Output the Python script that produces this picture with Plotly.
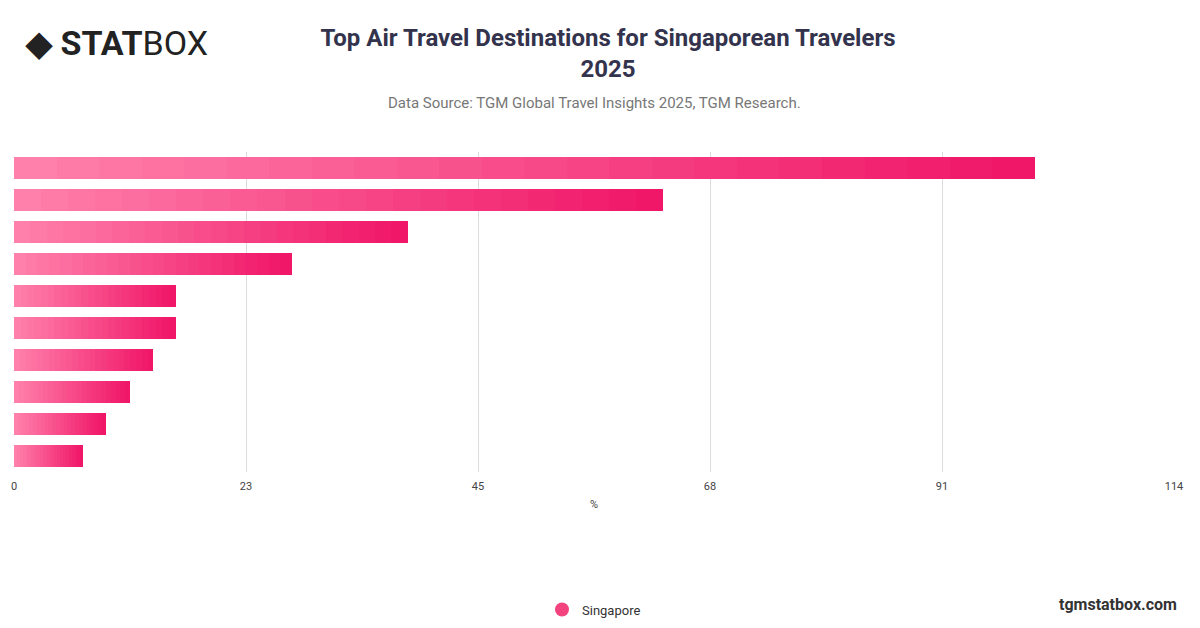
import plotly.graph_objects as go

categories = ["Dest 1","Dest 2","Dest 3","Dest 4","Dest 5","Dest 6","Dest 7","Dest 8","Dest 9","Dest 10"]
values = [100.3, 63.8, 38.7, 27.3, 15.9, 15.9, 13.7, 11.4, 9.0, 6.8]
tick_vals = [0, 22.8, 45.6, 68.4, 91.2, 114]
tick_text = ["0", "23", "45", "68", "91", "114"]

N = 24
c0 = (255, 128, 170)
c1 = (240, 22, 104)
fig = go.Figure()
for i in range(N):
    t = i / (N - 1)
    col = "rgb(%d,%d,%d)" % tuple(round(a + (b - a) * t) for a, b in zip(c0, c1))
    fig.add_trace(go.Bar(
        y=categories, x=[v / N for v in values], orientation="h",
        marker=dict(color=col, line=dict(width=0)), showlegend=False, hoverinfo="skip"))
fig.add_trace(go.Scatter(x=[None], y=[None], mode="markers", name="Singapore",
                         marker=dict(size=14, color="#f2437f")))

fig.update_layout(
    width=1200, height=628, barmode="stack", bargap=0.3,
    plot_bgcolor="white", paper_bgcolor="white",
    margin=dict(l=6, r=34, t=144, b=164, autoexpand=False),
    font=dict(family="Roboto, Arial", color="#555"),
    title=dict(text="<b>Top Air Travel Destinations for Singaporean Travelers<br>2025</b>",
               x=0.5, y=0.94, xanchor="center", yanchor="top",
               font=dict(size=24, color="#33334d", family="Roboto")),
    xaxis=dict(range=[0, 114], tickvals=tick_vals, ticktext=tick_text, showgrid=True,
               gridcolor="#dddddd", zeroline=False, tickfont=dict(size=11, color="#444"),
               ticks="outside", ticklen=4, tickcolor="rgba(0,0,0,0)",
               title=dict(text="%", font=dict(size=11, color="#444"), standoff=8)),
    yaxis=dict(autorange="reversed", showticklabels=False, showgrid=False),
    legend=dict(orientation="h", x=0.5, xanchor="center", y=-0.43, yanchor="middle",
                font=dict(size=13, color="#333")),
    annotations=[
        dict(text="Data Source: TGM Global Travel Insights 2025, TGM Research.", x=0.5, y=1.154,
             xref="paper", yref="paper", xanchor="center", yanchor="middle", showarrow=False,
             font=dict(size=15, color="#777")),
        dict(text="<b>◆ STAT</b>BOX", x=0.008, y=1.41, xref="paper", yref="paper",
             xanchor="left", yanchor="top", showarrow=False,
             font=dict(size=34, color="#222", family="Roboto")),
        dict(text="<b>tgmstatbox.com</b>", x=1.004, y=-0.415, xref="paper", yref="paper",
             xanchor="right", yanchor="middle", showarrow=False,
             font=dict(size=16, color="#333")),
    ],
)
fig.write_html("out.html")
